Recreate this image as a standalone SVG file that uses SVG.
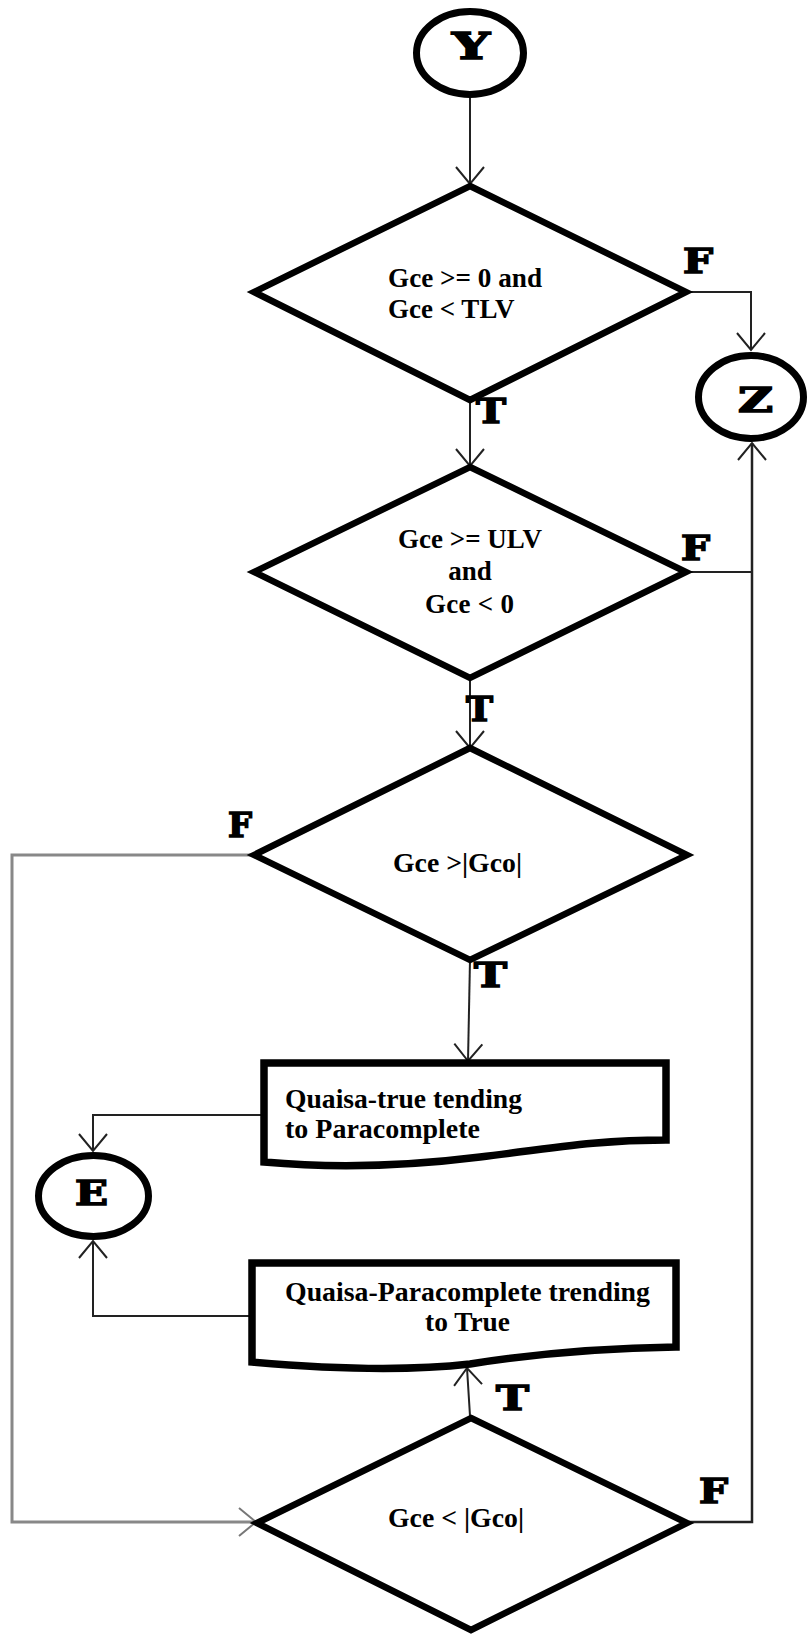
<svg xmlns="http://www.w3.org/2000/svg" width="809" height="1634" viewBox="0 0 809 1634">
<style>
.shape{fill:#fff;stroke:#000;stroke-width:6.5;stroke-linejoin:miter}
.ring{fill:#fff;stroke:#000;stroke-width:7}
.box{fill:#fff;stroke:#000;stroke-width:7.5;stroke-linejoin:miter}
.txt{font-family:"Liberation Serif","Times New Roman",serif;font-weight:bold;font-size:27px;fill:#000}
.btxt{font-family:"Liberation Serif","Times New Roman",serif;font-weight:bold;font-size:28px;fill:#000}
.lbl{font-family:"DejaVu Serif","Liberation Serif",serif;font-weight:bold;font-size:34px;fill:#000;stroke:#000;stroke-width:1.6}
.c{fill:none;stroke:#222;stroke-width:2}
.cg{fill:none;stroke:#888;stroke-width:3}
</style>
<defs>
<marker id="ah" markerUnits="userSpaceOnUse" markerWidth="40" markerHeight="40" refX="0" refY="0" viewBox="-20 -20 40 40" orient="auto" overflow="visible">
<path d="M-17,-14 L0,0 L-17,14" fill="none" stroke="#222" stroke-width="2"/>
</marker>
<marker id="ahg" markerUnits="userSpaceOnUse" markerWidth="40" markerHeight="40" refX="0" refY="0" viewBox="-20 -20 40 40" orient="auto" overflow="visible">
<path d="M-17,-14 L0,0 L-17,14" fill="none" stroke="#777" stroke-width="2"/>
</marker>
</defs>

<g id="connectors">
<path class="c" d="M470,98 V184" marker-end="url(#ah)"/>
<path class="c" d="M687,292 H751 V350" marker-end="url(#ah)"/>
<path class="c" d="M470,400 V466" marker-end="url(#ah)"/>
<path class="c" d="M687,572 H752"/>
<path class="c" d="M689,1522 H752 V443" marker-end="url(#ah)" style="stroke-width:2.5"/>
<path class="c" d="M470,678 V748" marker-end="url(#ah)"/>
<path class="cg" d="M254,855 H12 V1522 H256" marker-end="url(#ahg)"/>
<path class="c" d="M470,960 L468,1061" marker-end="url(#ah)"/>
<path class="c" d="M264,1115 H93 V1151" marker-end="url(#ah)"/>
<path class="c" d="M252,1316 H93 V1241" marker-end="url(#ah)"/>
<path class="c" d="M470,1416 L467,1368" marker-end="url(#ah)"/>
</g>

<g id="labels">
<text class="lbl" x="683" y="273" textLength="30" lengthAdjust="spacingAndGlyphs">F</text>
<text class="lbl" x="476" y="423" textLength="30" lengthAdjust="spacingAndGlyphs">T</text>
<text class="lbl" x="681" y="560" textLength="29" lengthAdjust="spacingAndGlyphs">F</text>
<text class="lbl" x="466" y="721" textLength="27" lengthAdjust="spacingAndGlyphs">T</text>
<text class="lbl" x="228" y="837" textLength="24" lengthAdjust="spacingAndGlyphs">F</text>
<text class="lbl" x="474" y="987" textLength="33" lengthAdjust="spacingAndGlyphs">T</text>
<text class="lbl" x="496" y="1410" textLength="33" lengthAdjust="spacingAndGlyphs">T</text>
<text class="lbl" x="699" y="1503" textLength="29" lengthAdjust="spacingAndGlyphs">F</text>
</g>

<g id="Y">
<ellipse class="ring" cx="470" cy="53" rx="53.5" ry="41.5"/>
<text class="lbl" x="452" y="59" textLength="38" lengthAdjust="spacingAndGlyphs" style="font-size:37px">Y</text>
</g>

<g id="Z">
<ellipse class="ring" cx="751" cy="397" rx="52.5" ry="41.5"/>
<text class="lbl" x="738" y="412" textLength="35" lengthAdjust="spacingAndGlyphs">Z</text>
</g>

<g id="E">
<ellipse class="ring" cx="93.5" cy="1196" rx="55" ry="40.5"/>
<text class="lbl" x="75" y="1205" textLength="33" lengthAdjust="spacingAndGlyphs">E</text>
</g>

<g id="d1">
<polygon class="shape" points="470,186 686,292 470,400 254,292"/>
<text class="txt" x="388" y="287" textLength="154" lengthAdjust="spacingAndGlyphs">Gce &gt;= 0 and</text>
<text class="txt" x="388" y="318">Gce &lt; TLV</text>
</g>

<g id="d2">
<polygon class="shape" points="470,467 686,572 470,678 254,572"/>
<text class="txt" x="470" y="548" text-anchor="middle">Gce &gt;= ULV</text>
<text class="txt" x="470" y="580" text-anchor="middle">and</text>
<text class="txt" x="425" y="613" textLength="89" lengthAdjust="spacing">Gce &lt; 0</text>
</g>

<g id="d3">
<polygon class="shape" points="470,748 687,855 470,960 254,855"/>
<text class="txt" x="393" y="872" textLength="129" lengthAdjust="spacingAndGlyphs">Gce &gt;|Gco|</text>
</g>

<g id="box1">
<path class="box" d="M264,1063 H666 V1140 C600,1140 560,1147 480,1157 C400,1167 330,1168 264,1162 Z"/>
<text class="btxt" x="285" y="1108" textLength="237" lengthAdjust="spacingAndGlyphs">Quaisa-true tending</text>
<text class="btxt" x="285" y="1138" textLength="195" lengthAdjust="spacingAndGlyphs">to Paracomplete</text>
</g>

<g id="box2">
<path class="box" d="M252,1263 H676 V1347 C600,1348 540,1353 470,1364 C400,1372 320,1368 252,1362 Z"/>
<text class="btxt" x="285" y="1301" textLength="365" lengthAdjust="spacingAndGlyphs">Quaisa-Paracomplete trending</text>
<text class="btxt" x="425" y="1331" textLength="85" lengthAdjust="spacingAndGlyphs">to True</text>
</g>

<g id="d4">
<polygon class="shape" points="471,1418 687,1523 471,1630 257,1523"/>
<text class="txt" x="388" y="1527" textLength="136" lengthAdjust="spacingAndGlyphs">Gce &lt; |Gco|</text>
</g>
</svg>
